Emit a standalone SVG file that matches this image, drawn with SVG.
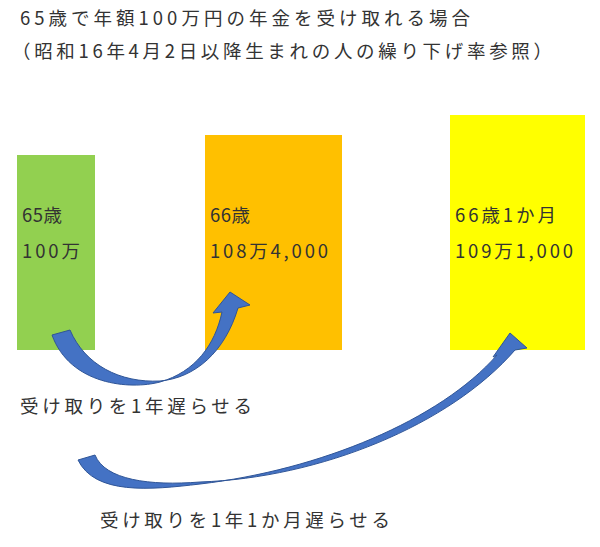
<svg xmlns="http://www.w3.org/2000/svg" width="600" height="547" viewBox="0 0 600 547">
<style>
text{font-family:"Noto Sans CJK JP","Liberation Sans",sans-serif;font-size:18.5px;fill:#333}
.arr{fill:#4472C4;stroke:#2F5597;stroke-width:1}
</style>
<rect width="600" height="547" fill="#fff"/>
<text x="20" y="25" textLength="450" lengthAdjust="spacing">65歳で年額100万円の年金を受け取れる場合</text>
<text x="12" y="58" textLength="540" lengthAdjust="spacing">（昭和16年4月2日以降生まれの人の繰り下げ率参照）</text>
<g id="n65"><rect x="17" y="155" width="78" height="195" fill="#92D050"/>
<text x="22" y="222" textLength="40" lengthAdjust="spacing">65歳</text><text x="22" y="258" textLength="58" lengthAdjust="spacing">100万</text></g>
<g id="n66"><rect x="205" y="135" width="137" height="215" fill="#FFC000"/>
<text x="210" y="222" textLength="40" lengthAdjust="spacing">66歳</text><text x="210" y="258" textLength="118" lengthAdjust="spacing">108万4,000</text></g>
<g id="n661"><rect x="450" y="115" width="135" height="235" fill="#FFFF00"/>
<text x="455" y="222" textLength="101" lengthAdjust="spacing">66歳1か月</text><text x="455" y="258" textLength="118" lengthAdjust="spacing">109万1,000</text></g>
<g id="connectors">
<path class="arr" d="M52,335 C70,385 130,390 160,382 C195,372 215,345 222,312 L213,313 L230,292 L250,305 L238,308 C225,352 195,378 160,381 C120,383 85,365 70,330 Z"/>
<path class="arr" d="M78,460 C95,495 150,490 200,484 C320,470 440,420 497,355 L493,357 L510,333 L527,348 L515,350 C450,425 320,478 200,482 C150,486 105,480 95,455 Z"/>
</g>
<text x="20" y="413" textLength="232" lengthAdjust="spacing">受け取りを1年遅らせる</text>
<text x="100" y="527" textLength="290" lengthAdjust="spacing">受け取りを1年1か月遅らせる</text>
</svg>
